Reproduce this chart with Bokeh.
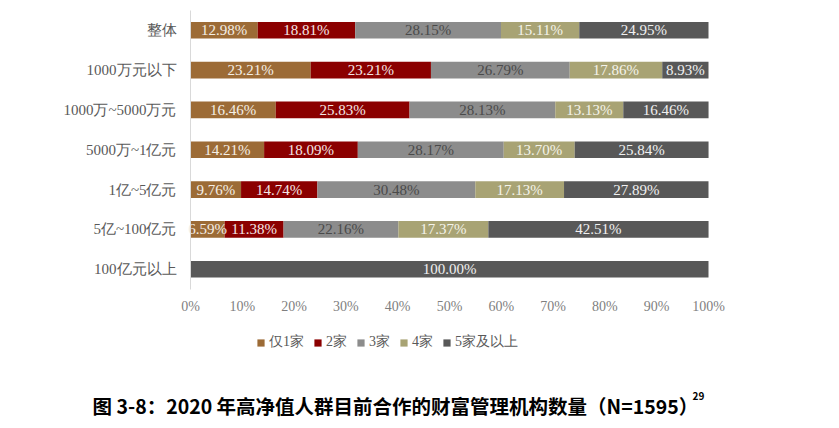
from bokeh.plotting import figure
from bokeh.models import ColumnDataSource, Range1d, FactorRange, Legend, Label, FixedTicker
from bokeh.core.properties import value
from bokeh.embed import file_html
from bokeh.resources import INLINE

# data (percent of respondents)
categories = ["整体", "1000万元以下", "1000万~5000万元", "5000万~1亿元",
              "1亿~5亿元", "5亿~100亿元", "100亿元以上"]
series = ["仅1家", "2家", "3家", "4家", "5家及以上"]
only_one = [12.98, 23.21, 16.46, 14.21, 9.76, 6.59, 0]
two = [18.81, 23.21, 25.83, 18.09, 14.74, 11.38, 0]
three = [28.15, 26.79, 28.13, 28.17, 30.48, 22.16, 0]
four = [15.11, 17.86, 13.13, 13.70, 17.13, 17.37, 0]
five_plus = [24.95, 8.93, 16.46, 25.84, 27.89, 42.51, 100.00]
x_ticks = [0, 10, 20, 30, 40, 50, 60, 70, 80, 90, 100]
caption = "图 3-8：2020 年高净值人群目前合作的财富管理机构数量（N=1595）"
footnote = "29"

colors = ["#9c6b36", "#8b0000", "#8c8c8c", "#a8a374", "#585858"]
label_colors = ["#f4efe6", "#f4e6e6", "#4a4a4a", "#f4f3ea", "#f0f0f0"]
serif = "Liberation Serif"
bold_cjk = "Noto Sans CJK SC"

data = {"cat": categories}
for name, vals in zip(series, [only_one, two, three, four, five_plus]):
    data[name] = vals
source = ColumnDataSource(data)

# the frame fills the whole figure; empty rows under the bars hold the
# tick labels, the legend and the caption so nothing gets clipped
blank_rows = ["   ", "  ", " "]
n_blank = len(blank_rows)
W, H = 831, 418
px_per_pct = 5.18          # 0% at x=190, 100% at x=708
p = figure(
    y_range=FactorRange(factors=blank_rows + list(reversed(categories)),
                        range_padding=0.0494),
    x_range=Range1d(-190 / px_per_pct, 100 + (W - 708) / px_per_pct),
    width=W,
    height=H,
    output_backend="svg",
    toolbar_location=None,
    min_border=0,
)

renderers = p.hbar_stack(series, y="cat", height=0.42, color=colors,
                         line_color=None, source=source)

# percentage labels in the middle of each segment
lx, ly, lt, lc = [], [], [], []
for i, cat in enumerate(categories):
    left = 0
    for j, name in enumerate(series):
        v = data[name][i]
        if v > 0:
            lx.append(left + v / 2)
            ly.append(cat)
            lt.append(f"{v:.2f}%")
            lc.append(label_colors[j])
        left += v
p.text(x=lx, y=ly, text=lt, text_color=lc, text_align="center",
       text_baseline="middle", text_font=value(serif), text_font_size="15px")

p.grid.visible = False
p.outline_line_color = None

p.yaxis.fixed_location = 0
p.yaxis.bounds = (n_blank, n_blank + len(categories))
p.yaxis.axis_line_color = "#d9d9d9"
p.yaxis.major_tick_line_color = None
p.yaxis.minor_tick_line_color = None
p.yaxis.major_label_standoff = 8
p.yaxis.major_label_text_font = serif
p.yaxis.major_label_text_font_size = "15px"
p.yaxis.major_label_text_color = "#595959"

p.xaxis.fixed_location = n_blank
p.xaxis.ticker = FixedTicker(ticks=x_ticks)
p.xaxis.major_label_overrides = {t: f"{t}%" for t in x_ticks}
p.xaxis.axis_line_color = None
p.xaxis.major_tick_line_color = None
p.xaxis.minor_tick_line_color = None
p.xaxis.major_label_standoff = 4
p.xaxis.major_label_text_font = serif
p.xaxis.major_label_text_font_size = "14px"
p.xaxis.major_label_text_color = "#7f7f7f"

legend = Legend(
    items=[(name, [r]) for name, r in zip(series, renderers)],
    orientation="horizontal",
    location=(256, 67),
    border_line_color=None,
    background_fill_alpha=0,
    padding=0,
    margin=0,
    spacing=9,
    glyph_width=9,
    glyph_height=9,
    label_standoff=4,
    label_text_font=serif,
    label_text_font_size="14px",
    label_text_color="#595959",
)
p.add_layout(legend, "center")

# caption under the chart, with its footnote mark
p.add_layout(Label(x=92, y=13, x_units="screen", y_units="screen",
                   text=caption, text_baseline="middle",
                   text_font=bold_cjk, text_font_style="bold",
                   text_font_size="19.5px", text_color="#000000"))
p.add_layout(Label(x=692, y=23, x_units="screen", y_units="screen",
                   text=footnote, text_baseline="middle",
                   text_font=bold_cjk, text_font_style="bold",
                   text_font_size="10px", text_color="#000000"))

open("out.html", "w").write(file_html(p, INLINE))
